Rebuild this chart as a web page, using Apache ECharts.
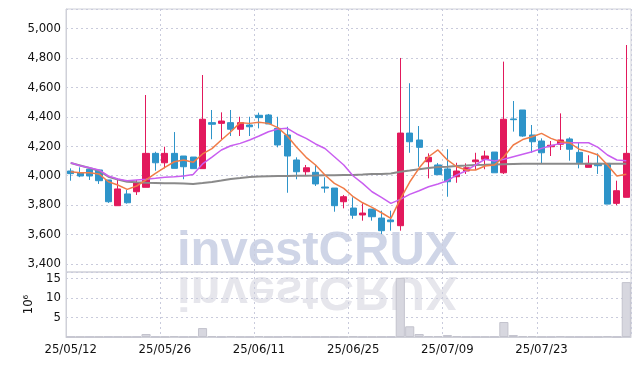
<!DOCTYPE html>
<html>
<head>
<meta charset="utf-8">
<script src="https://cdn.jsdelivr.net/npm/echarts@6/dist/echarts.min.js"></script>
<style>
html,body{margin:0;padding:0;background:#fff;}
#c{width:639px;height:366px;}
</style>
</head>
<body>
<div id="c"></div>
<script>
const dates = ['25/05/12','25/05/13','25/05/14','25/05/15','25/05/16','25/05/19','25/05/20','25/05/21','25/05/22','25/05/23',
'25/05/26','25/05/27','25/05/28','25/05/29','25/05/30','25/06/02','25/06/04','25/06/05','25/06/09','25/06/10',
'25/06/11','25/06/12','25/06/13','25/06/16','25/06/17','25/06/18','25/06/19','25/06/20','25/06/23','25/06/24',
'25/06/25','25/06/26','25/06/27','25/06/30','25/07/01','25/07/02','25/07/03','25/07/04','25/07/07','25/07/08',
'25/07/09','25/07/10','25/07/11','25/07/14','25/07/15','25/07/16','25/07/17','25/07/18','25/07/21','25/07/22',
'25/07/23','25/07/24','25/07/25','25/07/28','25/07/29','25/07/30','25/07/31','25/08/01','25/08/04','25/08/05'];

const opens = [4032,4018,4044,4039,3971,3796,3876,3891,3921,4152, 4088,4152,4134,4127,4048,4361,4356,4361,4316,4345,
4411,4413,4322,4277,4107,4027,4023,3923,3916,3823, 3780,3733,3773,3712,3699,3660,4290,4243,4095,4073,
4046,3993,4032,4095,4112,4161,4020,4386,4447,4277, 4236,4197,4214,4250,4159,4057,4084,4084,3812,3853];
const closes = [4014,3998,3998,3966,3823,3910,3816,3952,4152,4088, 4152,4050,4061,4048,4384,4350,4372,4316,4361,4333,
4395,4352,4209,4134,4027,4054,3944,3916,3796,3857, 3731,3746,3721,3626,3687,4290,4231,4193,4125,4007,
3959,4032,4054,4107,4134,4020,4384,4381,4270,4231, 4156,4207,4243,4180,4088,4084,4068,3807,3898,4152];
const highs = [4050,4057,4059,4039,3971,3982,3903,3971,4549,4163, 4197,4297,4134,4127,4685,4447,4431,4447,4401,4401,
4429,4420,4401,4333,4125,4073,4073,3989,3916,3869, 3853,3812,3773,3762,3762,4801,4629,4338,4152,4086,
4180,4088,4084,4156,4170,4161,4776,4508,4447,4345, 4254,4236,4424,4261,4224,4139,4152,4084,3966,4889];
const lows = [3966,3990,3971,3944,3815,3796,3810,3869,3921,4034, 4050,4050,3976,4048,4048,4248,4248,4270,4270,4270,
4322,4352,4193,3884,3976,3998,3930,3884,3755,3778, 3707,3694,3694,3603,3626,3626,4156,4061,3982,4007,
3857,3952,4012,4039,4044,4020,4012,4300,4265,4156, 4084,4134,4175,4102,4050,4057,4012,3807,3799,3853];

const maShort = [4027,4020,4020,4012,3959,3937,3907,3930,3971,4016, 4057,4095,4107,4091,4148,4184,4243,4299,4361,4356,
4363,4356,4327,4270,4193,4125,4073,4005,3948,3914, 3857,3816,3785,3748,3710,3841,3957,4052,4129,4175,
4107,4061,4039,4039,4066,4073,4129,4209,4246,4265, 4288,4254,4231,4224,4180,4163,4141,4073,3998,4010];
const maMid = [4088,4068,4054,4039,3998,3978,3966,3971,3976,3982, 3989,3993,3998,4008,4080,4127,4175,4204,4220,4243,
4270,4299,4318,4322,4284,4254,4216,4185,4129,4073, 3998,3948,3891,3853,3812,3839,3873,3898,3925,3944,
3966,4005,4034,4073,4112,4100,4112,4129,4146,4163, 4186,4204,4220,4224,4224,4224,4193,4141,4107,4102];
const maLong = [4086,4069,4052,4034,3993,3974,3959,3955,3952,3950, 3948,3948,3947,3944,3950,3957,3967,3978,3984,3991,
3995,3997,3998,3998,3999,4000,4001,4003,4003,4005, 4005,4008,4012,4012,4015,4027,4035,4044,4052,4059,
4061,4066,4069,4073,4074,4076,4078,4080,4082,4082, 4082,4082,4082,4082,4082,4082,4082,4082,4082,4082];

const volumes = [0.06,0.05,0.06,0.05,0.08,0.07,0.05,0.06,0.77,0.08, 0.07,0.26,0.06,0.07,2.3,0.26,0.08,0.26,0.07,0.06,
0.26,0.07,0.06,0.26,0.07,0.05,0.06,0.07,0.06,0.05, 0.2,0.06,0.05,0.07,0.08,15.2,2.75,0.77,0.26,0.26,
0.5,0.26,0.07,0.06,0.07,0.08,3.85,0.5,0.26,0.26, 0.07,0.06,0.26,0.07,0.06,0.05,0.07,0.26,0.06,14.1];

const priceTicks = [3400,3600,3800,4000,4200,4400,4600,4800,5000];

const candleData = dates.map((d, i) => [opens[i], closes[i], lows[i], highs[i]]);

const FONT = '"DejaVu Sans Condensed", "DejaVu Sans", sans-serif';
const gridLine = { show: true, lineStyle: { color: '#c9cbdc', type: [2, 3], width: 1 } };

const chart = echarts.init(document.getElementById('c'), null, { renderer: 'canvas' });
chart.setOption({
  animation: false,
  backgroundColor: '#fff',
  grid: [
    { left: 66, right: 8, top: 9, height: 263, show: true, borderColor: '#cfd0d8', borderWidth: 1 },
    { left: 66, right: 8, top: 272, height: 65, show: true, borderColor: '#cfd0d8', borderWidth: 1 }
  ],
  graphic: [
    { type: 'text', x: 177, y: 227, z: -10, silent: true,
      style: { text: 'investCRUX', font: 'bold 49px "Liberation Sans", Arial, sans-serif', fill: '#cfd5e7', verticalAlign: 'top' } },
    { type: 'text', x: 177, y: 227, z: -10, silent: true, scaleY: -1, originY: 44,
      style: { text: 'investCRUX', font: 'bold 49px "Liberation Sans", Arial, sans-serif', fill: '#e6e6ec', verticalAlign: 'top' } }
  ],
  xAxis: [
    { type: 'category', data: dates, gridIndex: 0, boundaryGap: true,
      axisLine: { show: false }, axisTick: { show: false }, axisLabel: { show: false },
      splitLine: Object.assign({ interval: 9 }, gridLine) },
    { type: 'category', data: dates, gridIndex: 1, boundaryGap: true,
      axisLine: { show: true, lineStyle: { color: '#cfd0d8' } }, axisTick: { show: false },
      axisLabel: { interval: 9, color: '#111', fontFamily: FONT, fontSize: 13, margin: 6 },
      splitLine: Object.assign({ interval: 9 }, gridLine) }
  ],
  yAxis: [
    { type: 'value', gridIndex: 0, min: 3345, max: 5134, splitNumber: 9, scale: true,
      axisLine: { show: true, lineStyle: { color: '#cfd0d8' } }, axisTick: { show: false },
      axisLabel: { color: '#111', fontFamily: FONT, fontSize: 13, margin: 5, showMinLabel: false, showMaxLabel: false,
        formatter: v => priceTicks.indexOf(v) >= 0 ? v.toLocaleString('en-US') : '' },
      splitLine: gridLine },
    { type: 'value', gridIndex: 1, min: 0, max: 16.7, interval: 5,
      name: '10\u2076', nameLocation: 'middle', nameRotate: 90, nameGap: 21,
      nameTextStyle: { color: '#111', fontFamily: FONT, fontSize: 13 },
      axisLine: { show: true, lineStyle: { color: '#cfd0d8' } }, axisTick: { show: false },
      axisLabel: { color: '#111', fontFamily: FONT, fontSize: 13, margin: 5, showMinLabel: false, showMaxLabel: false },
      splitLine: gridLine }
  ],
  series: [
    { type: 'candlestick', xAxisIndex: 0, yAxisIndex: 0, data: candleData, barWidth: '70%',
      itemStyle: { color: '#e2195c', color0: '#2e94c9', borderColor: '#e2195c', borderColor0: '#2e94c9', borderWidth: 1 } },
    { type: 'line', xAxisIndex: 0, yAxisIndex: 0, data: maLong, symbol: 'none', smooth: false,
      lineStyle: { color: '#8a8a8a', width: 2 } },
    { type: 'line', xAxisIndex: 0, yAxisIndex: 0, data: maMid, symbol: 'none',
      lineStyle: { color: '#c95ef0', width: 1.5 } },
    { type: 'line', xAxisIndex: 0, yAxisIndex: 0, data: maShort, symbol: 'none',
      lineStyle: { color: '#f07c48', width: 1.5 } },
    { type: 'bar', xAxisIndex: 1, yAxisIndex: 1, data: volumes, barCategoryGap: '3%',
      itemStyle: { color: '#d7d7df', borderColor: '#c3c3cd', borderWidth: 1 } }
  ]
});
</script>
</body>
</html>
